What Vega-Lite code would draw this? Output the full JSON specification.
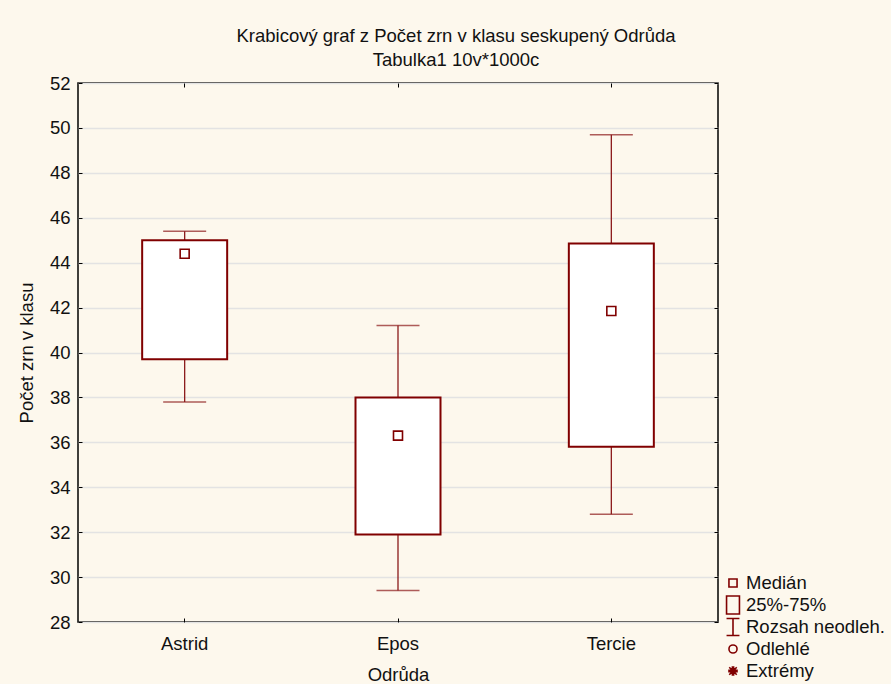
{
  "$schema": "https://vega.github.io/schema/vega-lite/v6.json",
  "autosize": "none",
  "width": 640,
  "height": 539,
  "padding": {"left": 78, "top": 83, "right": 173, "bottom": 62},
  "background": "#FDF8ED",
  "title": {
    "text": "Krabicový graf z Počet zrn v klasu seskupený Odrůda",
    "subtitle": "Tabulka1 10v*1000c",
    "dx": 58,
    "offset": 5,
    "font": "Liberation Sans",
    "fontSize": 18.5,
    "fontWeight": "normal",
    "color": "#111111",
    "subtitleFont": "Liberation Sans",
    "subtitleFontSize": 18.5,
    "subtitleColor": "#111111",
    "subtitlePadding": 5
  },
  "config": {
    "view": {"fill": "white", "stroke": "black", "strokeWidth": 1.5},
    "axis": {
      "labelFont": "Liberation Sans",
      "titleFont": "Liberation Sans",
      "labelFontSize": 18.5,
      "titleFontSize": 18.5,
      "titleFontWeight": "normal",
      "labelColor": "#111111",
      "titleColor": "#111111",
      "domainColor": "black",
      "tickColor": "black",
      "gridColor": "#E3E3E3",
      "gridWidth": 1.5
    },
    "legend": {
      "labelFont": "Liberation Sans",
      "labelFontSize": 18.5,
      "labelColor": "#111111"
    }
  },
  "resolve": {"axis": {"x": "independent", "y": "independent"}},
  "datasets": {
    "boxes": [
      {"odruda": "Astrid", "wlo": 37.8, "q1": 39.7, "med": 44.4, "q3": 45.0, "whi": 45.4},
      {"odruda": "Epos", "wlo": 29.4, "q1": 31.9, "med": 36.3, "q3": 38.0, "whi": 41.2},
      {"odruda": "Tercie", "wlo": 32.8, "q1": 35.8, "med": 41.85, "q3": 44.85, "whi": 49.7}
    ],
    "legendItems": [
      {"item": "Medián"},
      {"item": "25%-75%"},
      {"item": "Rozsah neodleh."},
      {"item": "Odlehlé"},
      {"item": "Extrémy"}
    ]
  },
  "layer": [
    {
      "data": {"name": "boxes"},
      "mark": {"type": "rule", "color": "#8B1A1A", "strokeWidth": 1.3},
      "encoding": {
        "x": {
          "field": "odruda", "type": "nominal",
          "scale": {"paddingInner": 0, "paddingOuter": 0},
          "axis": {"title": "Odrůda", "labelAngle": 0, "tickSize": -4, "labelPadding": 16, "titlePadding": 13, "domain": false}
        },
        "y": {
          "field": "wlo", "type": "quantitative",
          "scale": {"domain": [28, 52], "nice": false},
          "axis": {"title": "Počet zrn v klasu", "values": [28, 30, 32, 34, 36, 38, 40, 42, 44, 46, 48, 50, 52], "tickSize": -4, "labelPadding": 12, "titlePadding": 13, "domain": false}
        },
        "y2": {"field": "whi"}
      }
    },
    {
      "data": {"name": "boxes"},
      "mark": {"type": "bar", "fill": "white", "stroke": "#800000", "strokeWidth": 2, "size": 85},
      "encoding": {
        "x": {"field": "odruda", "type": "nominal", "axis": {"orient": "top", "labels": false, "title": null, "tickSize": -4, "domain": false, "grid": false}},
        "y": {"field": "q1", "type": "quantitative", "axis": {"orient": "right", "labels": false, "title": null, "tickSize": -4, "domain": false, "grid": false, "values": [28, 30, 32, 34, 36, 38, 40, 42, 44, 46, 48, 50, 52]}},
        "y2": {"field": "q3"}
      }
    },
    {
      "data": {"name": "boxes"},
      "mark": {"type": "tick", "color": "#8B1A1A", "size": 43, "thickness": 1.5},
      "encoding": {
        "x": {"field": "odruda", "type": "nominal", "axis": null},
        "y": {"field": "whi", "type": "quantitative", "axis": null}
      }
    },
    {
      "data": {"name": "boxes"},
      "mark": {"type": "tick", "color": "#8B1A1A", "size": 43, "thickness": 1.5},
      "encoding": {
        "x": {"field": "odruda", "type": "nominal", "axis": null},
        "y": {"field": "wlo", "type": "quantitative", "axis": null}
      }
    },
    {
      "data": {"name": "boxes"},
      "mark": {"type": "point", "shape": "square", "filled": false, "stroke": "#800000", "strokeWidth": 1.6, "size": 81, "opacity": 1},
      "encoding": {
        "x": {"field": "odruda", "type": "nominal", "axis": null},
        "y": {"field": "med", "type": "quantitative", "axis": null}
      }
    },
    {
      "data": {"name": "legendItems"},
      "mark": {"type": "point", "filled": false, "opacity": 0},
      "encoding": {
        "shape": {
          "field": "item", "type": "nominal",
          "scale": {
            "domain": ["Medián", "25%-75%", "Rozsah neodleh.", "Odlehlé", "Extrémy"],
            "range": [
              "M-0.27,-0.27H0.27V0.27H-0.27Z",
              "M-0.43,-0.6H0.43V0.6H-0.43Z",
              "M-0.43,-0.57H0.43M0,-0.57V0.57M-0.43,0.57H0.43",
              "M-0.27,0A0.27,0.27,0,1,1,0.27,0A0.27,0.27,0,1,1,-0.27,0Z",
              "M-0.32,0H0.32M0,-0.32V0.32M-0.25,-0.25L0.25,0.25M-0.25,0.25L0.25,-0.25M-0.32,-0.04H0.32M-0.32,0.04H0.32M-0.04,-0.32V0.32M0.04,-0.32V0.32"
            ]
          },
          "legend": {
            "title": null,
            "orient": "none",
            "legendX": 639,
            "legendY": 489,
            "symbolSize": 900,
            "symbolOpacity": 1,
            "symbolFillColor": "transparent",
            "symbolStrokeColor": "#800000",
            "symbolStrokeWidth": 1.6,
            "labelOffset": -3,
            "clipHeight": 22,
            "rowPadding": 0,
            "padding": 0
          }
        }
      }
    }
  ]
}
